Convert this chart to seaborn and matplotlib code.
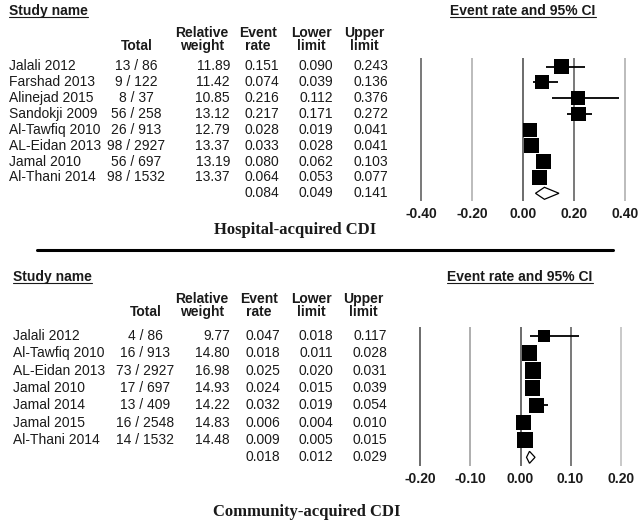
import matplotlib
matplotlib.use("Agg")
import matplotlib.pyplot as plt
import matplotlib.transforms as mtransforms
from matplotlib.lines import Line2D
import seaborn as sns
import pandas as pd

# hospital-acquired CDI
hosp_names = ["Jalali 2012", "Farshad 2013", "Alinejad 2015", "Sandokji 2009",
              "Al-Tawfiq 2010", "AL-Eidan 2013", "Jamal 2010", "Al-Thani 2014"]
hosp_events = [13, 9, 8, 56, 26, 98, 56, 98]
hosp_totals = [86, 122, 37, 258, 913, 2927, 697, 1532]
hosp_weight = [11.89, 11.42, 10.85, 13.12, 12.79, 13.37, 13.19, 13.37]
hosp_rate = [0.151, 0.074, 0.216, 0.217, 0.028, 0.033, 0.080, 0.064]
hosp_lower = [0.090, 0.039, 0.112, 0.171, 0.019, 0.028, 0.062, 0.053]
hosp_upper = [0.243, 0.136, 0.376, 0.272, 0.041, 0.041, 0.103, 0.077]
hosp_pooled = [0.084, 0.049, 0.141]
hosp_ticks = [-0.40, -0.20, 0.00, 0.20, 0.40]

# community-acquired CDI
comm_names = ["Jalali 2012", "Al-Tawfiq 2010", "AL-Eidan 2013", "Jamal 2010",
              "Jamal 2014", "Jamal 2015", "Al-Thani 2014"]
comm_events = [4, 16, 73, 17, 13, 16, 14]
comm_totals = [86, 913, 2927, 697, 409, 2548, 1532]
comm_weight = [9.77, 14.80, 16.98, 14.93, 14.22, 14.83, 14.48]
comm_rate = [0.047, 0.018, 0.025, 0.024, 0.032, 0.006, 0.009]
comm_lower = [0.018, 0.011, 0.020, 0.015, 0.019, 0.004, 0.005]
comm_upper = [0.117, 0.028, 0.031, 0.039, 0.054, 0.010, 0.015]
comm_pooled = [0.018, 0.012, 0.029]
comm_ticks = [-0.20, -0.10, 0.00, 0.10, 0.20]

W, H = 639, 522
sns.set_style("white")
plt.rcParams['font.family'] = ['Liberation Sans', 'DejaVu Sans']

fig = plt.figure(figsize=(W / 100, H / 100), dpi=100)
px = mtransforms.Affine2D().scale(1 / W, -1 / H).translate(0, 1) + fig.transFigure
TXT = '#1a1a1a'
underlined = []


def T(x, y, s, ha='left', bold=False, size=10, under=False, **kw):
    t = fig.text(x, y, s, transform=px, ha=ha, va='center', fontsize=size,
                 fontweight='bold' if bold else 'normal', color=TXT, **kw)
    if under:
        underlined.append(t)
    return t


def panel(names, events, totals, weight, rate, lower, upper, pooled, ticks,
          top, row0, step, cols, axbox, line_colors, title_x):
    # column headers
    c_name, c_total, c_w, c_er, c_lo, c_up = cols
    T(c_name, top, "Study name", bold=True, under=True)
    T(title_x, top, "Event rate and 95% CI", ha='center', bold=True, under=True)
    h1, h2 = top + 22, top + 35
    T(c_total + 1, h2, "Total", ha='center', bold=True)
    for cx, a, b in [(202, "Relative", "weight"), (c_er - 21, "Event", "rate"),
                     (c_lo - 22, "Lower", "limit"), (c_up - 24, "Upper", "limit")]:
        T(cx, h1, a, ha='center', bold=True)
        T(cx, h2, b, ha='center', bold=True)

    rows = [row0 + i * step for i in range(len(names))]
    pool_y = row0 + len(names) * step
    for i, y in enumerate(rows):
        T(c_name, y, names[i])
        T(c_total, y, f"{events[i]} / {totals[i]}", ha='center')
        T(c_w, y, f"{weight[i]:.2f}", ha='right')
        T(c_er, y, f"{rate[i]:.3f}", ha='right')
        T(c_lo, y, f"{lower[i]:.3f}", ha='right')
        T(c_up, y, f"{upper[i]:.3f}", ha='right')
    T(c_er, pool_y, f"{pooled[0]:.3f}", ha='right')
    T(c_lo, pool_y, f"{pooled[1]:.3f}", ha='right')
    T(c_up, pool_y, f"{pooled[2]:.3f}", ha='right')

    # forest plot
    x0, x1, y0, y1, xlo, xhi = axbox
    ax = fig.add_axes([x0 / W, 1 - y1 / H, (x1 - x0) / W, (y1 - y0) / H])
    ax.set_xlim(xlo, xhi)
    ax.set_ylim(y1, y0)
    for t, c in zip(ticks, line_colors):
        ax.axvline(t, color=c, lw=1.1, zorder=1)
    df = pd.DataFrame({"rate": rate, "y": rows, "w": weight})
    ax.hlines(rows, lower, upper, color='black', lw=1.3, zorder=2)
    sns.scatterplot(data=df, x="rate", y="y", size="w", sizes=(0, 172),
                    size_norm=(0, 20), marker='s', color='black', linewidth=0,
                    legend=False, ax=ax, zorder=3)
    er, lo, hi = pooled
    ax.fill([lo, er, hi, er], [pool_y, pool_y - 6, pool_y, pool_y + 6],
            facecolor='white', edgecolor='black', lw=0.9, zorder=4, clip_on=False)
    ax.set_xticks(ticks)
    ax.set_xticklabels([f"{t:.2f}" for t in ticks], fontweight='bold', fontsize=10, color=TXT)
    ax.tick_params(axis='x', length=0, pad=4)
    ax.set_yticks([])
    ax.set_xlabel("")
    ax.set_ylabel("")
    for s in ax.spines.values():
        s.set_visible(False)
    ax.patch.set_alpha(0)
    return ax


panel(hosp_names, hosp_events, hosp_totals, hosp_weight, hosp_rate, hosp_lower,
      hosp_upper, hosp_pooled, hosp_ticks,
      top=11, row0=66.5, step=15.85,
      cols=(9, 136, 230, 279, 333, 388),
      axbox=(415.9, 630.1, 58, 201, -0.42, 0.42),
      line_colors=['#555555', '#aaaaaa', '#444444', '#555555', '#aaaaaa'],
      title_x=523)
T(295, 230, "Hospital-acquired CDI", ha='center', bold=True, size=12,
  family=['Liberation Serif', 'DejaVu Serif'])

panel(comm_names, comm_events, comm_totals, comm_weight, comm_rate, comm_lower,
      comm_upper, comm_pooled, comm_ticks,
      top=277, row0=336, step=17.33,
      cols=(13, 145, 230, 280, 333, 387),
      axbox=(415.4, 625.6, 327, 466, -0.21, 0.21),
      line_colors=['#444444', '#999999', '#444444', '#555555', '#bbbbbb'],
      title_x=520)
T(307, 512, "Community-acquired CDI", ha='center', bold=True, size=12,
  family=['Liberation Serif', 'DejaVu Serif'])

# separator between the two panels
fig.add_artist(Line2D([37 / W, 613 / W], [1 - 250.5 / H] * 2, color='black',
                      lw=2.2, transform=fig.transFigure))

# underline the bold headers
fig.canvas.draw()
r = fig.canvas.get_renderer()
for t in underlined:
    bb = t.get_window_extent(r)
    y = bb.y0 + 1.5
    fig.add_artist(Line2D([bb.x0 / W, bb.x1 / W], [y / H] * 2, color=TXT,
                          lw=0.8, transform=fig.transFigure))

fig.savefig("out.png", dpi=100)
